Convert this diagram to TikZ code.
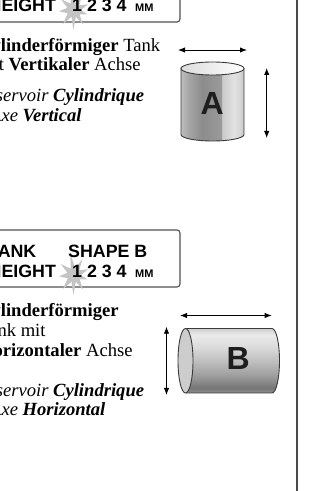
\documentclass[tikz,border=0pt]{standalone}
\usepackage{fontspec}
\setmainfont{Liberation Serif}
\setsansfont{Liberation Sans}
\usetikzlibrary{arrows.meta}

% palette
\definecolor{inkline}{HTML}{3A3A3A}
\definecolor{framegray}{HTML}{505050}
\definecolor{rulegray}{HTML}{4A4A4A}
\definecolor{burst}{HTML}{C4C4C4}
\definecolor{letterink}{HTML}{1E1E1E}
\definecolor{capgray}{HTML}{CDCDCD}
% upright cylinder body, left to right
\definecolor{ua1}{HTML}{BEBEBE}
\definecolor{ua2}{HTML}{A6A6A6}
\definecolor{ua3}{HTML}{8C8C8C}
\definecolor{ua4}{HTML}{9A9A9A}
\definecolor{ua5}{HTML}{CACACA}
\definecolor{ua6}{HTML}{E2E2E2}
\definecolor{ua7}{HTML}{D6D6D6}
\definecolor{ua8}{HTML}{C4C4C4}
% lying cylinder body, bottom to top
\definecolor{lb1}{HTML}{8E8E8E}
\definecolor{lb2}{HTML}{767676}
\definecolor{lb3}{HTML}{9C9C9C}
\definecolor{lb4}{HTML}{C0C0C0}
\definecolor{lb5}{HTML}{DEDEDE}
\definecolor{lb6}{HTML}{EAEAEA}
\definecolor{lb7}{HTML}{CFCFCF}

\pgfdeclarehorizontalshading{uprightbody}{100bp}{%
  color(0bp)=(ua1); color(25bp)=(ua1); color(31bp)=(ua2); color(42bp)=(ua3);
  color(57bp)=(ua4); color(57.6bp)=(ua5); color(67bp)=(ua6); color(72bp)=(ua7);
  color(75bp)=(ua8); color(100bp)=(ua8)}
\pgfdeclareverticalshading{lyingbody}{100bp}{%
  color(0bp)=(lb1); color(25bp)=(lb1); color(29bp)=(lb2); color(38bp)=(lb3);
  color(50bp)=(lb4); color(62bp)=(lb5); color(70bp)=(lb6); color(75bp)=(lb7);
  color(100bp)=(lb7)}

\tikzset{
  bodytext/.style={font=\fontsize{18.6}{19.5}\selectfont, anchor=base west, inner sep=0pt},
  tagtext/.style={font=\sffamily\bfseries\fontsize{17.8}{18}\selectfont, anchor=base west, inner sep=0pt},
  tagsmall/.style={font=\sffamily\bfseries\fontsize{11}{11}\selectfont, anchor=base west, inner sep=0pt},
  letter/.style={font=\sffamily\bfseries\fontsize{32}{32}\selectfont, inner sep=0pt, text=letterink},
  tagbox/.style={draw=framegray, line width=1.1pt, rounded corners=3pt, fill=white},
  outline/.style={draw=inkline, line width=0.9pt},
  dimarrow/.style={{Latex[length=7pt,width=5.4pt]}-{Latex[length=7pt,width=5.4pt]}, line width=0.85pt, draw=black},
  rule/.style={draw=rulegray, line width=1.8pt},
  burstshape/.style={fill=burst},
}

\begin{document}
\begin{tikzpicture}[x=1pt,y=1pt]
\useasboundingbox (0,0) rectangle (323,491);
\clip (0,0) rectangle (323,491);
\fill[white] (0,0) rectangle (323,491);

% ---- label box, shape A ----
\draw[tagbox] (-20,469) rectangle (180,526);
\begin{scope}[shift={(74,481)}]
  \fill[burstshape] (100:21) -- (118:7) -- (140:17) -- (162:7) -- (185:15) -- (208:7)
    -- (232:18) -- (250:7) -- (268:20) -- (285:7) -- (302:17) -- (322:7)
    -- (342:14) -- (0:7) -- (22:15) -- (42:7) -- (62:18) -- (80:7) -- cycle;
\end{scope}
\node[tagtext] (tkA) at (-12,499) {TANK};
\node[tagtext] (shA) at (68,499) {SHAPE A};
\node[tagtext] (htA) at (-11.5,479) {HEIGHT};
\node[tagtext] (nmA) at (72,479) {1 2 3 4};
\node[tagsmall] (mmA) at (135,479) {MM};

% ---- description, shape A ----
\node[bodytext] (deAa) at (-21,439) {\textbf{Zylinderförmiger} Tank};
\node[bodytext] (deAb) at (-21,420) {mit \textbf{Vertikaler} Achse};
\node[bodytext] (frAa) at (-24,389.3) {\textit{Réservoir \textbf{Cylindrique}}};
\node[bodytext] (frAb) at (-24,369.5) {\textit{à Axe \textbf{Vertical}}};

% ---- upright cylinder A ----
\shade[shading=uprightbody] (181,422.5) -- (181,356.5)
  arc[start angle=180, end angle=360, x radius=31.5, y radius=6.5] -- (244,422.5) -- cycle;
\draw[outline] (181,422.5) -- (181,356.5)
  arc[start angle=180, end angle=360, x radius=31.5, y radius=6.5] -- (244,422.5);
\shade[left color=gray!28, right color=white] (212.5,422.5) ellipse[x radius=31.5, y radius=6.5];
\draw[outline] (212.5,422.5) ellipse[x radius=31.5, y radius=6.5];
\node[letter] (lA) at (212.3,387.5) {A};

\coordinate (ahl) at (178,441);
\coordinate (ahr) at (247,441);
\coordinate (avt) at (266.7,423);
\coordinate (avb) at (266.7,353);
\draw[dimarrow] (ahl) -- (ahr);
\draw[dimarrow] (avt) -- (avb);

% ---- label box, shape B ----
\draw[tagbox] (-20,204) rectangle (180,261);
\begin{scope}[shift={(74,216)}]
  \fill[burstshape] (100:21) -- (118:7) -- (140:17) -- (162:7) -- (185:15) -- (208:7)
    -- (232:18) -- (250:7) -- (268:20) -- (285:7) -- (302:17) -- (322:7)
    -- (342:14) -- (0:7) -- (22:15) -- (42:7) -- (62:18) -- (80:7) -- cycle;
\end{scope}
\node[tagtext] (tkB) at (-12,233) {TANK};
\node[tagtext] (shB) at (68,233) {SHAPE B};
\node[tagtext] (htB) at (-11.5,213) {HEIGHT};
\node[tagtext] (nmB) at (72,213) {1 2 3 4};
\node[tagsmall] (mmB) at (135,213) {MM};

% ---- description, shape B ----
\node[bodytext] (deBa) at (-21,174) {\textbf{Zylinderförmiger}};
\node[bodytext] (deBb) at (-21,154) {Tank mit};
\node[bodytext] (deBc) at (-21,134) {\textbf{Horizontaler} Achse};
\node[bodytext] (frBa) at (-24,94) {\textit{Réservoir \textbf{Cylindrique}}};
\node[bodytext] (frBb) at (-24,75) {\textit{à Axe \textbf{Horizontal}}};

% ---- lying cylinder B ----
\shade[shading=lyingbody] (185.5,162.5) -- (272,162.5)
  arc[start angle=90, end angle=-90, x radius=7.5, y radius=32.25] -- (185.5,98) -- cycle;
\draw[outline] (185.5,162.5) -- (272,162.5)
  arc[start angle=90, end angle=-90, x radius=7.5, y radius=32.25] -- (185.5,98);
\filldraw[fill=capgray, outline] (185.5,130.25) ellipse[x radius=7.5, y radius=32.25];
\node[letter] (lB) at (238.3,132.5) {B};

\coordinate (bhl) at (180,175.5);
\coordinate (bhr) at (271.7,175.5);
\coordinate (bvt) at (166.5,164.3);
\coordinate (bvb) at (166.5,96);
\draw[dimarrow] (bhl) -- (bhr);
\draw[dimarrow] (bvt) -- (bvb);

% ---- page rule ----
\coordinate (rtop) at (297,491);
\coordinate (rbot) at (297,0);
\draw[rule] (rtop) -- (rbot);
\end{tikzpicture}
\end{document}
